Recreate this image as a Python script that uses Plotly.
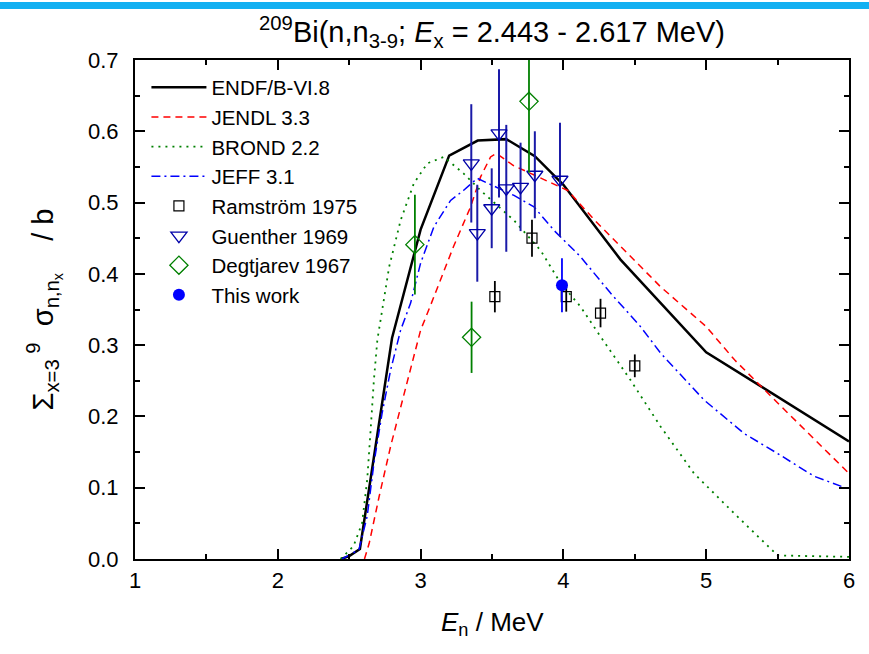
import plotly.graph_objects as go

# ---- evaluated data ----
endf_E = [2.443, 2.5, 2.575, 2.8, 3.0, 3.2, 3.4, 3.6, 3.8, 4.0, 4.4, 5.0, 6.0]
endf_V = [0.0, 0.004, 0.014, 0.31, 0.462, 0.566, 0.587, 0.589, 0.565, 0.525, 0.42, 0.29, 0.165]

jendl_E = [2.607, 2.64, 2.71, 2.79, 2.88, 3.0, 3.07, 3.23, 3.35, 3.42, 3.49, 3.53, 3.65, 3.82,
           4.03, 4.22, 4.45, 4.68, 5.0, 5.2, 5.48, 5.76, 6.0]
jendl_V = [0.0, 0.022, 0.088, 0.158, 0.228, 0.321, 0.356, 0.438, 0.494, 0.536, 0.564, 0.569, 0.552, 0.536,
           0.517, 0.475, 0.428, 0.382, 0.326, 0.279, 0.223, 0.167, 0.12]

brond_E = [2.44, 2.53, 2.59, 2.626, 2.65, 2.673, 2.697, 2.78, 2.86, 2.953, 3.047, 3.163, 3.30, 3.42,
           3.654, 3.84, 3.98, 4.12, 4.26, 4.47, 4.68, 4.915, 5.196, 5.385, 5.5, 6.0]
brond_V = [0.0, 0.018, 0.05, 0.111, 0.181, 0.251, 0.307, 0.41, 0.475, 0.527, 0.555, 0.564, 0.541, 0.517,
           0.475, 0.433, 0.387, 0.354, 0.312, 0.251, 0.186, 0.12, 0.064, 0.027, 0.005, 0.003]

jeff_E = [2.45, 2.568, 2.626, 2.673, 2.73, 2.79, 2.86, 2.93, 3.0, 3.093, 3.21, 3.30, 3.397, 3.654,
          3.794, 3.934, 4.12, 4.33, 4.54, 4.68, 4.985, 5.266, 5.5, 5.756, 6.0]
jeff_V = [0.0, 0.013, 0.06, 0.134, 0.204, 0.265, 0.321, 0.359, 0.415, 0.466, 0.503, 0.517, 0.534, 0.51,
          0.494, 0.461, 0.424, 0.373, 0.326, 0.289, 0.223, 0.176, 0.148, 0.116, 0.098]

# ---- experimental data ----
ram_E = [3.52, 3.78, 4.02, 4.26, 4.50]
ram_V = [0.368, 0.450, 0.368, 0.345, 0.271]
ram_err = [0.022, 0.026, 0.021, 0.020, 0.016]

gue_E = [3.355, 3.397, 3.498, 3.549, 3.60, 3.70, 3.80, 3.976]
gue_V = [0.555, 0.457, 0.492, 0.597, 0.520, 0.522, 0.539, 0.532]
gue_err = [0.083, 0.068, 0.056, 0.090, 0.089, 0.062, 0.061, 0.080]

deg_E = [2.96, 3.357, 3.759]
deg_V = [0.441, 0.311, 0.642]
deg_err = [0.07, 0.05, 0.10]

tw_E = [3.99]
tw_V = [0.384]
tw_err = [0.038]

x_ticks = [1, 2, 3, 4, 5, 6]
y_ticks = [0.0, 0.1, 0.2, 0.3, 0.4, 0.5, 0.6, 0.7]

FONT = "Liberation Sans, Arial, Helvetica, sans-serif"

fig = go.Figure()
fig.add_trace(go.Scatter(x=endf_E, y=endf_V, mode="lines", name="ENDF/B-VI.8",
                         line=dict(color="black", width=2.5)))
fig.add_trace(go.Scatter(x=jendl_E, y=jendl_V, mode="lines", name="JENDL 3.3",
                         line=dict(color="#ff0000", width=1.5, dash="7px,5px")))
fig.add_trace(go.Scatter(x=brond_E, y=brond_V, mode="lines", name="BROND 2.2",
                         line=dict(color="#008000", width=1.8, dash="2px,5px")))
fig.add_trace(go.Scatter(x=jeff_E, y=jeff_V, mode="lines", name="JEFF 3.1",
                         line=dict(color="#0000ff", width=1.5, dash="9px,4px,2px,4px")))
fig.add_trace(go.Scatter(x=ram_E, y=ram_V, mode="markers", name="Ramström 1975",
                         marker=dict(symbol="square-open", size=10, color="black", line=dict(width=1.2)),
                         error_y=dict(type="data", array=ram_err, color="black", thickness=1.8, width=0)))
fig.add_trace(go.Scatter(x=gue_E, y=gue_V, mode="markers", name="Guenther 1969",
                         marker=dict(symbol="triangle-down-open", size=14, color="#0000a8", line=dict(width=1.3)),
                         error_y=dict(type="data", array=gue_err, color="#1a1aa8", thickness=2, width=0)))
fig.add_trace(go.Scatter(x=deg_E, y=deg_V, mode="markers", name="Degtjarev 1967",
                         marker=dict(symbol="diamond-open", size=14, color="#008000", line=dict(width=1.3)),
                         error_y=dict(type="data", array=deg_err, color="#008000", thickness=1.8, width=0)))
fig.add_trace(go.Scatter(x=tw_E, y=tw_V, mode="markers", name="This work",
                         marker=dict(symbol="circle", size=12, color="#0000ff"),
                         error_y=dict(type="data", array=tw_err, color="#0000ff", thickness=1.8, width=0)))

axis_common = dict(showline=True, linecolor="black", linewidth=2, mirror="allticks",
                   ticks="inside", ticklen=10, tickwidth=2, tickcolor="black",
                   showgrid=False, zeroline=False,
                   tickfont=dict(family=FONT, size=22, color="black"))

fig.update_xaxes(range=[1, 6], tickvals=x_ticks, ticktext=[str(v) for v in x_ticks],
                 minor=dict(ticks="inside", ticklen=5, tickwidth=2, tickcolor="black", dtick=0.5, tick0=1, showgrid=False),
                 ticklabelstandoff=1, **axis_common)
fig.update_yaxes(range=[0, 0.7], tickvals=y_ticks, ticktext=[f"{v:.1f}" for v in y_ticks],
                 minor=dict(ticks="inside", ticklen=5, tickwidth=2, tickcolor="black", dtick=0.05, tick0=0, showgrid=False),
                 ticklabelstandoff=10, **axis_common)

fig.update_layout(
    width=869, height=654,
    margin=dict(l=135, r=20, t=59.5, b=94.5),
    paper_bgcolor="white", plot_bgcolor="white",
    font=dict(family=FONT, color="black"),
    title=dict(text="<sup>209</sup>Bi(n,n<sub>3-9</sub>; <i>E</i><sub>x</sub> = 2.443 - 2.617 MeV)",
               x=0.5, xref="paper", xanchor="center", y=1 - 32 / 654, yref="container", yanchor="middle",
               font=dict(family=FONT, size=29, color="black")),
    legend=dict(x=0.016, y=0.985, xanchor="left", yanchor="top", bgcolor="rgba(0,0,0,0)",
                borderwidth=0, font=dict(family=FONT, size=20.5, color="black"),
                itemwidth=55, tracegroupgap=0),
    showlegend=True,
)

fig.add_annotation(text="<i>E</i><sub>n</sub> / MeV", xref="paper", yref="paper",
                   x=0.5, y=(559 - 624) / 500, xanchor="center", yanchor="middle", showarrow=False,
                   font=dict(family=FONT, size=26, color="black"))
fig.add_annotation(text="Σ<sub>x=3</sub><sup> 9</sup>  σ<sub>n,n<sub>x</sub></sub>    / b", xref="paper", yref="paper",
                   x=(44 - 135) / 714, y=0.5, xanchor="center", yanchor="middle", textangle=-90, showarrow=False,
                   font=dict(family=FONT, size=29, color="black"))

# decorative blue band at top of the page
fig.add_shape(type="rect", xref="paper", yref="paper", x0=-0.3, x1=1.1,
              y0=(559.5 - 8.5) / 500, y1=(559.5 - 1.5) / 500, fillcolor="#12b0f2", line=dict(width=0), layer="above")

fig.write_html("out.html", config={"displayModeBar": False},
               post_script="document.body.style.margin='0px';")
